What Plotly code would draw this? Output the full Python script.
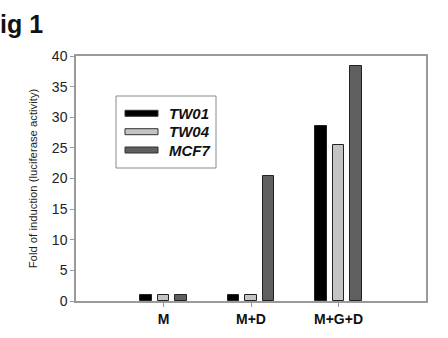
import plotly.graph_objects as go

categories = ["M", "M+D", "M+G+D"]
cat_pos = [1, 2, 3]
series_names = ["TW01", "TW04", "MCF7"]
tw01 = [1.0, 1.0, 28.6]
tw04 = [1.0, 1.0, 25.4]
mcf7 = [1.0, 20.4, 38.4]
y_ticks = [0, 5, 10, 15, 20, 25, 30, 35, 40]

colors = ["#000000", "#c4c4c4", "#5f5f5f"]
offsets = [-0.2, 0.0, 0.2]
values = [tw01, tw04, mcf7]

W, H = 448, 338
ML, MR, MT, MB = 76, 22, 56, 37
PW, PH = W - ML - MR, H - MT - MB


def px(x):
    return (x - ML) / PW


def py(y):
    return (H - MB - y) / PH


fig = go.Figure()
for name, vals, col, off in zip(series_names, values, colors, offsets):
    fig.add_trace(go.Bar(
        x=[p + off for p in cat_pos], y=vals, width=0.126,
        marker=dict(color=col, line=dict(color="#222222", width=1)),
        showlegend=False, name=name,
    ))

fig.update_layout(
    width=W, height=H,
    margin=dict(l=ML, r=MR, t=MT, b=MB),
    paper_bgcolor="white", plot_bgcolor="white",
    font=dict(family="Liberation Sans, Arial, sans-serif", color="#222222"),
    bargap=0,
    showlegend=False,
    xaxis=dict(
        range=[0, 4], tickvals=cat_pos, ticktext=categories,
        showline=True, linecolor="#9a9a9a", linewidth=1.5, mirror=True,
        ticks="outside", ticklen=4, tickcolor="#9a9a9a",
        tickfont=dict(size=14, weight="bold", color="#111111"),
        showgrid=False, zeroline=False,
    ),
    yaxis=dict(
        range=[0, 40], tickvals=y_ticks,
        showline=True, linecolor="#9a9a9a", linewidth=1.5, mirror=True,
        ticks="outside", ticklen=4, tickcolor="#9a9a9a",
        tickfont=dict(size=14, color="#222222"),
        showgrid=False, zeroline=False,
        title=dict(text="Fold of induction (luciferase activity)",
                   font=dict(size=11.3, color="#222222"), standoff=12),
    ),
)

# manual legend
fig.add_shape(type="rect", xref="paper", yref="paper",
              x0=px(116), x1=px(216), y0=py(168), y1=py(96),
              line=dict(color="#8a8a8a", width=1), fillcolor="white")
row_y = [113.3, 131.7, 150]
for name, col, ry in zip(series_names, colors, row_y):
    fig.add_shape(type="rect", xref="paper", yref="paper",
                  x0=px(125), x1=px(158), y0=py(ry + 3), y1=py(ry - 3),
                  line=dict(color="#333333", width=1), fillcolor=col)
    fig.add_annotation(text=name, xref="paper", yref="paper",
                       x=px(167), y=py(ry), xanchor="left", yanchor="middle",
                       showarrow=False,
                       font=dict(size=15, weight="bold", style="italic",
                                 color="#111111"))

fig.add_annotation(
    text="<b>ig 1</b>", xref="paper", yref="paper",
    x=px(-2), y=py(8), xanchor="left", yanchor="top",
    showarrow=False, font=dict(size=25, color="#111111"),
)

fig.write_html("out.html")
